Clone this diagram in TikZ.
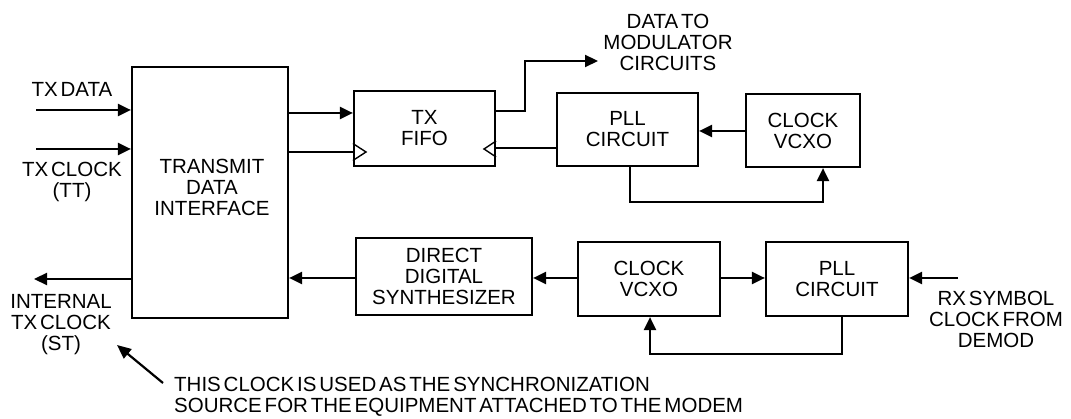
\documentclass[tikz,border=0pt]{standalone}
\usepackage{fontspec}
\setmainfont{Liberation Sans}[WordSpace=0.5]
\usetikzlibrary{arrows.meta}
\begin{document}
\begin{tikzpicture}[x=1pt,y=-1pt,
  every node/.style={font=\fontsize{20.5}{21}\selectfont, inner sep=0pt},
  box/.style={draw, line width=2.2pt, rectangle, align=center},
  lbl/.style={align=center},
  wire/.style={line width=2.2pt},
  arr/.style={wire, -{Triangle[length=13pt,width=12pt]}},
  tri/.style={line width=1.4pt, line join=miter}
]
\useasboundingbox (0,0) rectangle (1071,419);
% boxes
\node[box, minimum width=156pt, minimum height=251pt] (tdi) at (210,192.5) {};
\node[lbl] (tditext) at (212,187) {TRANSMIT\\DATA\\INTERFACE};
\node[box, minimum width=141pt, minimum height=75pt] (fifo) at (424.5,128.5) {TX\\FIFO};
\node[box, minimum width=141pt, minimum height=73pt] (plla) at (627.5,129.5) {PLL\\CIRCUIT};
\node[box, minimum width=114pt, minimum height=73pt] (vcxoa) at (803,130.5) {CLOCK\\VCXO};
\node[box, minimum width=176pt, minimum height=77pt] (dds) at (444,276.5) {DIRECT\\DIGITAL\\SYNTHESIZER};
\node[box, minimum width=142pt, minimum height=74pt] (vcxob) at (649,279) {CLOCK\\VCXO};
\node[box, minimum width=142pt, minimum height=74pt] (pllb) at (837,279) {PLL\\CIRCUIT};
% labels
\node[lbl] (txdata) at (72,89) {TX DATA};
\node[lbl] (txclock) at (72,182) {TX CLOCK\\(TT)};
\node[lbl] (internal) at (61,325) {INTERNAL\\TX CLOCK\\(ST)};
\node[lbl] (datato) at (668,42) {DATA TO\\MODULATOR\\CIRCUITS};
\node[lbl] (rxsym) at (996,319) {RX SYMBOL\\CLOCK FROM\\DEMOD};
\node[align=left, anchor=west] (note) at (174,397) {THIS CLOCK IS USED AS THE SYNCHRONIZATION\\SOURCE FOR THE EQUIPMENT ATTACHED TO THE MODEM};
% free ends
\coordinate (txdin) at (36,110);
\coordinate (txcin) at (36,149);
\coordinate (stout) at (34,279);
\coordinate (modout) at (598,61);
\coordinate (rxin) at (958,278);
\coordinate (ptail) at (163,383);
\coordinate (phead) at (117,345);
% connectors
\draw[arr] (txdin) -- (tdi.west |- txdin);
\draw[arr] (txcin) -- (tdi.west |- txcin);
\draw[arr] (tdi.west |- stout) -- (stout);
\draw[arr] (tdi.east |- 0,113) -- (fifo.west |- 0,113);
\draw[wire] (tdi.east |- 0,152) -- (fifo.west |- 0,152);
\draw[arr] (fifo.east |- 0,111) -- (525,111) -- (525,61) -- (modout);
\draw[wire] (plla.west |- 0,148) -- (fifo.east |- 0,148);
\draw[arr] (vcxoa.west |- 0,131) -- (plla.east |- 0,131);
\draw[arr] (plla.south -| 630,0) -- (630,202) -- (823,202) -- (vcxoa.south -| 823,0);
\draw[arr] (dds.west |- 0,278) -- (tdi.east |- 0,278);
\draw[arr] (vcxob.west |- 0,278) -- (dds.east |- 0,278);
\draw[arr] (vcxob.east |- 0,278) -- (pllb.west |- 0,278);
\draw[arr] (rxin) -- (pllb.east |- rxin);
\draw[arr] (pllb.south -| 842,0) -- (842,354) -- (650,354) -- (vcxob.south -| 650,0);
\draw[wire, -{Triangle[length=14pt,width=12pt]}] (ptail) -- (phead);
% clock triangles in FIFO
\draw[tri] (fifo.west |- 0,143.5) -- (366,152) -- (fifo.west |- 0,160.5);
\draw[tri] (fifo.east |- 0,141) -- (484,149) -- (fifo.east |- 0,157);
\end{tikzpicture}
\end{document}
